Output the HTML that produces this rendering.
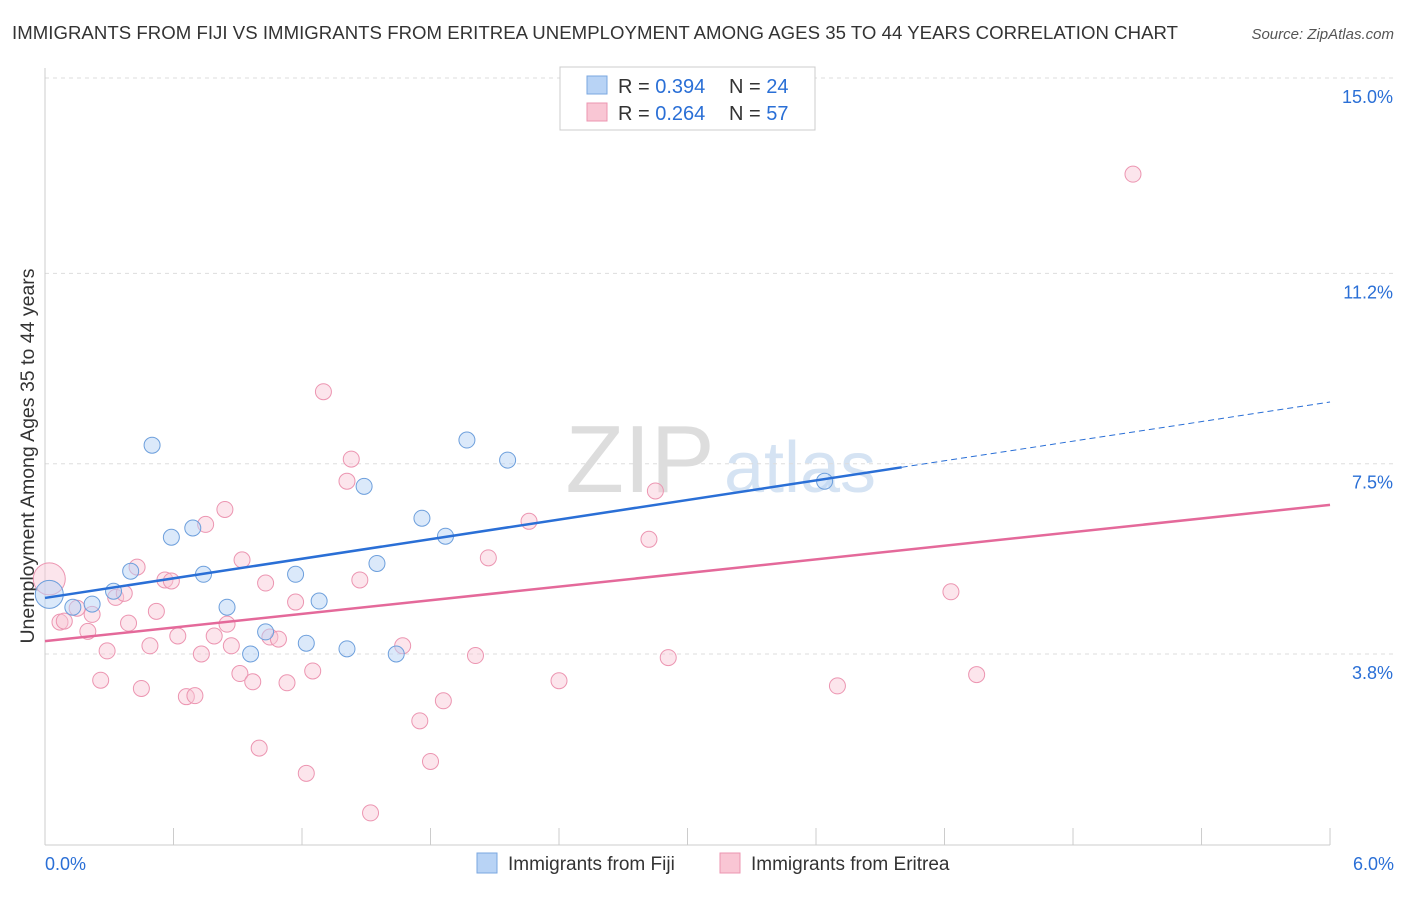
<!DOCTYPE html>
<html><head><meta charset="utf-8"><style>
body{margin:0;background:#fff;font-family:"Liberation Sans",sans-serif}
svg text{font-family:"Liberation Sans",sans-serif}
</style></head><body>
<svg id="c" width="1406" height="892" xmlns="http://www.w3.org/2000/svg">
<text x="12" y="39" font-size="18.6" fill="#333" textLength="1166">IMMIGRANTS FROM FIJI VS IMMIGRANTS FROM ERITREA UNEMPLOYMENT AMONG AGES 35 TO 44 YEARS CORRELATION CHART</text>
<text x="1394" y="39" font-size="15" fill="#555" font-style="italic" text-anchor="end">Source: ZipAtlas.com</text>
<text x="640" y="492" font-size="96" fill="#ddd" font-family="Liberation Serif" text-anchor="middle">ZIP</text>
<text x="800" y="492" font-size="72" fill="#d5e3f3" text-anchor="middle">atlas</text>
<text transform="translate(34,456) rotate(-90)" font-size="19.5" fill="#333" text-anchor="middle">Unemployment Among Ages 35 to 44 years</text>
<g id="grid"></g><g id="marks"></g>
<g>
<rect x="560" y="67" width="255" height="63" fill="#fff" stroke="#ccc"/>
<rect x="587" y="76" width="20" height="18" fill="#b8d3f5" stroke="#7aa7e0"/>
<rect x="587" y="103" width="20" height="18" fill="#f9c6d4" stroke="#ec95b1"/>
<text x="618" y="93" font-size="20" fill="#333">R = <tspan fill="#2a6fd6">0.394</tspan></text>
<text x="729" y="93" font-size="20" fill="#333">N = <tspan fill="#2a6fd6">24</tspan></text>
<text x="618" y="120" font-size="20" fill="#333">R = <tspan fill="#2a6fd6">0.264</tspan></text>
<text x="729" y="120" font-size="20" fill="#333">N = <tspan fill="#2a6fd6">57</tspan></text>
</g>
<g>
<rect x="477" y="853" width="20" height="20" fill="#b8d3f5" stroke="#7aa7e0"/>
<text x="508" y="870" font-size="19" fill="#333">Immigrants from Fiji</text>
<rect x="720" y="853" width="20" height="20" fill="#f9c6d4" stroke="#ec95b1"/>
<text x="751" y="870" font-size="19" fill="#333">Immigrants from Eritrea</text>
</g>
</svg>
<script>
const yTicks=[15.0,11.2,7.5,3.8];
const yTickLabels=["15.0%","11.2%","7.5%","3.8%"];
const xTickLabels=["0.0%","6.0%"];
const fijiX=[0.02,0.13,0.22,0.32,0.40,0.50,0.59,0.69,0.74,0.85,0.96,1.03,1.17,1.22,1.28,1.41,1.49,1.55,1.64,1.76,1.87,1.97,2.16,3.64];
const fijiY=[4.96,4.71,4.77,5.02,5.41,7.86,6.07,6.25,5.35,4.71,3.80,4.23,5.35,4.01,4.83,3.90,7.06,5.56,3.80,6.44,6.09,7.96,7.57,7.16];
const eriX=[0.02,0.07,0.09,0.15,0.20,0.22,0.26,0.29,0.33,0.37,0.39,0.43,0.45,0.49,0.52,0.56,0.59,0.62,0.66,0.70,0.73,0.75,0.79,0.84,0.85,0.91,0.92,0.97,1.00,1.03,1.05,1.09,1.13,1.17,1.22,1.25,1.30,1.41,1.43,1.47,1.52,1.67,1.75,1.80,1.86,2.01,2.07,2.26,2.40,2.82,2.85,2.91,3.70,4.23,4.35,5.08,0.87];
const eriY=[5.26,4.42,4.44,4.69,4.24,4.57,3.29,3.86,4.90,4.98,4.40,5.49,3.13,3.96,4.63,5.24,5.22,4.15,2.97,2.99,3.80,6.32,4.15,6.61,4.38,3.42,5.63,3.26,1.97,5.18,4.13,4.09,3.24,4.81,1.48,3.47,8.90,7.16,7.59,5.24,0.71,3.96,2.50,1.71,2.89,3.77,5.67,6.38,3.28,6.03,6.97,3.73,3.18,5.01,3.40,13.13,3.96];
const fijiLine=[4.89,8.70], eriLine=[4.05,6.70];
const NS="http://www.w3.org/2000/svg";
const X=v=>45+v*214.17, Y=v=>654-(v-3.8)*51.43;
function el(t,a,p){const e=document.createElementNS(NS,t);for(const k in a)e.setAttribute(k,a[k]);p.appendChild(e);return e;}
const g=document.getElementById('grid'),m=document.getElementById('marks');
yTicks.forEach((t,i)=>{
 const l=el('line',{x1:45,x2:1394,y1:Y(t),y2:Y(t),stroke:'#ddd','stroke-dasharray':'4,4'},g);
 
 
 const tx=el('text',{x:1393,y:Y(t)+25,'font-size':18,fill:'#2a6fd6','text-anchor':'end'},g);
 tx.textContent=yTickLabels[i];
 
 
});
el('line',{x1:45,x2:45,y1:68,y2:845,stroke:'#ccc'},g);
el('line',{x1:45,x2:1330,y1:845,y2:845,stroke:'#ccc'},g);
for(let i=0;i<=10;i++){const x=X(i*0.6);el('line',{x1:x,x2:x,y1:828,y2:845,stroke:'#ccc'},g);}
[[0,'start',45],[1,'end',1394]].forEach(([i,a,x])=>{const t=el('text',{x:x,y:870,'font-size':18,fill:'#2a6fd6','text-anchor':a},g);t.textContent=xTickLabels[i];
 
 });
eriX.forEach((x,i)=>{const c=el('circle',{cx:X(x),cy:Y(eriY[i]),r:i==0?16:8,fill:'rgba(249,198,212,0.45)',stroke:'#ec95b1','stroke-width':1},m);
 
 });
fijiX.forEach((x,i)=>{const c=el('circle',{cx:X(x),cy:Y(fijiY[i]),r:i==0?14:8,fill:'rgba(184,211,245,0.5)',stroke:'#6d9fdc','stroke-width':1},m);
 
 });
const fy=x=>fijiLine[0]+(fijiLine[1]-fijiLine[0])*x/6;
let l1=el('line',{x1:X(0),y1:Y(fy(0)),x2:X(4.0),y2:Y(fy(4.0)),stroke:'#2a6fd6','stroke-width':2.5},m);


let l2=el('line',{x1:X(4.0),y1:Y(fy(4.0)),x2:X(6),y2:Y(fy(6)),stroke:'#2a6fd6','stroke-width':1,'stroke-dasharray':'6,4'},m);


let l3=el('line',{x1:X(0),y1:Y(eriLine[0]),x2:X(6),y2:Y(eriLine[1]),stroke:'#e4699a','stroke-width':2.5},m);


</script>
</body></html>
